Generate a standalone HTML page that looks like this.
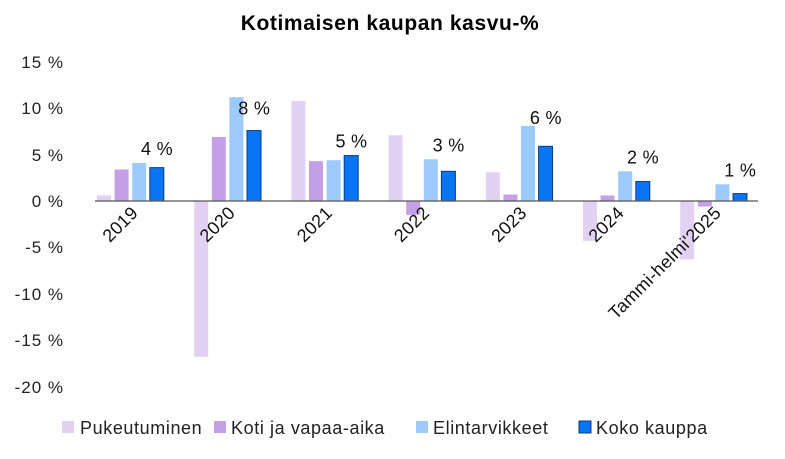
<!DOCTYPE html><html><head><meta charset="utf-8"><style>body{margin:0;background:#fff}</style></head><body>
<svg width="785" height="454" xmlns="http://www.w3.org/2000/svg" font-family="Liberation Sans, sans-serif">
<text x="390" y="30" text-anchor="middle" font-size="21" font-weight="bold" letter-spacing="0.6">Kotimaisen kaupan kasvu-%</text>
<g font-size="17" fill="#222" text-anchor="end" letter-spacing="1">
<text x="64" y="68">15 %</text><text x="64" y="114">10 %</text><text x="64" y="161">5 %</text><text x="64" y="207">0 %</text>
<text x="64" y="253">-5 %</text><text x="64" y="300">-10 %</text><text x="64" y="346">-15 %</text><text x="64" y="393">-20 %</text>
</g>
<g id="bars"></g>
<line x1="95" y1="201" x2="758" y2="201" stroke="#555" stroke-width="1.2"/>
<g id="labs" font-size="18" fill="#111" letter-spacing="0.3"></g>
<g font-size="18" fill="#222" letter-spacing="0.6">
<rect x="62" y="421" width="12" height="12" fill="#e2d1f2"/><text x="80" y="434">Pukeutuminen</text>
<rect x="214" y="421" width="12" height="12" fill="#c6a0e6"/><text x="231" y="434">Koti ja vapaa-aika</text>
<rect x="416" y="421" width="12" height="12" fill="#9ccafc"/><text x="433" y="434">Elintarvikkeet</text>
<rect x="579" y="421" width="12" height="12" fill="#0a74f7" stroke="#0b3d7a"/><text x="596" y="434">Koko kauppa</text>
</g>
</svg>
<script>
var d=[[0.6,3.4,4.1,3.6],[-16.8,6.9,11.2,7.6],[10.8,4.3,4.4,4.9],[7.1,-1.5,4.5,3.2],[3.1,0.7,8.1,5.9],[-4.3,0.6,3.2,2.1],[-6.3,-0.6,1.8,0.8]];
var names=["2019","2020","2021","2022","2023","2024","Tammi-helmi'2025"],lab=["4 %","8 %","5 %","3 %","6 %","2 %","1 %"];
var c=["#e2d1f2","#c6a0e6","#9ccafc","#0a74f7"],s="",t="",k=9.27,z=201;
d.forEach(function(g,i){var x0=97+i*97.2;g.forEach(function(v,j){var x=x0+j*17.6,h=Math.abs(v)*k,y=v>=0?z-h:z;
s+='<rect x="'+x+'" y="'+y+'" width="14" height="'+h+'" fill="'+c[j]+'"'+(j==3?' stroke="#0b3d7a" stroke-width="1"':'')+'/>';});
var ly=z-Math.max(g[2],g[3])*k-8;if(i==1)ly=z-g[3]*k-16; if(i==4)ly=z-g[2]*k-2;
t+='<text x="'+(x0+60)+'" y="'+ly+'" text-anchor="middle">'+lab[i]+'</text>';
var cx=x0+42,cy=214;t+='<text x="'+cx+'" y="'+cy+'" text-anchor="end" transform="rotate(-45 '+cx+' '+cy+')">'+names[i]+'</text>';});
document.getElementById("bars").innerHTML=s;document.getElementById("labs").innerHTML=t;
</script>
</body></html>
